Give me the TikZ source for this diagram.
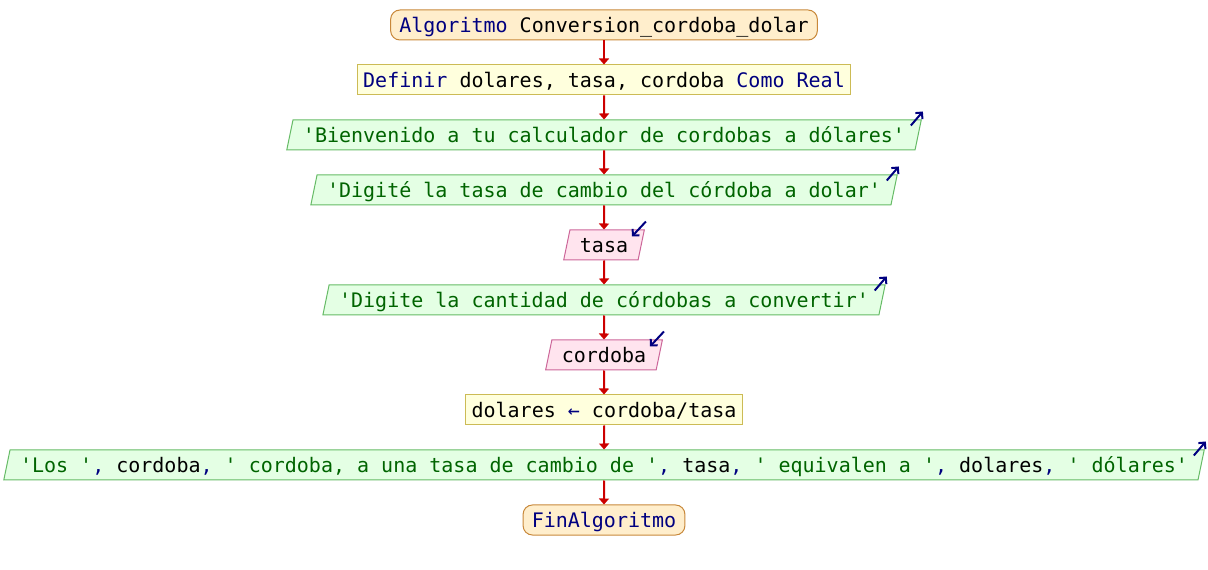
\documentclass[tikz,border=0pt]{standalone}
\usepackage{fontspec}
\setmonofont{DejaVu Sans Mono}
\usetikzlibrary{shapes.geometric,arrows.meta,calc}
\definecolor{kwc}{HTML}{000080}
\definecolor{strc}{HTML}{006400}
\definecolor{termfill}{HTML}{FFEECC}
\definecolor{termdraw}{HTML}{C8883A}
\definecolor{procfill}{HTML}{FFFFDD}
\definecolor{procdraw}{HTML}{CCBB55}
\definecolor{outfill}{HTML}{E4FFE4}
\definecolor{outdraw}{HTML}{66BB66}
\definecolor{infill}{HTML}{FFE4EE}
\definecolor{indraw}{HTML}{CC6699}
\definecolor{flowc}{HTML}{CC0000}
\newcommand{\kwd}[1]{\textcolor{kwc}{#1}}
\newcommand{\strg}[1]{\textcolor{strc}{#1}}
\tikzset{
  base/.style={font=\ttfamily\fontsize{15pt}{18pt}\selectfont, text height=12.5pt, text depth=1.5pt, line width=0.75pt, minimum height=22.5pt, inner ysep=0pt},
  term/.style={base, draw=termdraw, fill=termfill, rounded corners=7pt, inner xsep=6.5pt},
  proc/.style={base, draw=procdraw, fill=procfill, inner xsep=4.5pt},
  para/.style={base, trapezium, trapezium left angle=71.57, trapezium right angle=108.43, trapezium stretches body, inner xsep=7.5pt},
  outbox/.style={para, draw=outdraw, fill=outfill},
  inbox/.style={para, draw=indraw, fill=infill},
  flow/.style={draw=flowc, line width=1.5pt, -{Triangle[width=7.5pt,length=4.5pt]}},
  icon/.style={draw=kwc, line width=1.5pt, -{Straight Barb[length=3.5pt,width=7pt]}}
}
\begin{document}
\begin{tikzpicture}[x=0.75pt,y=-0.75pt]
\useasboundingbox (0,0) rectangle (1208,570);
\node[term] (start) at (604,25) {\kwd{Algoritmo} Conversion\_cordoba\_dolar};
\node[proc] (def) at (604,80) {\kwd{Definir} dolares, tasa, cordoba \kwd{Como Real}};
\node[outbox] (o1) at (604,135) {\strg{'Bienvenido a tu calculador de cordobas a dólares'}};
\node[outbox] (o2) at (604,190) {\strg{'Digité la tasa de cambio del córdoba a dolar'}};
\node[inbox] (i1) at (604,245) {tasa};
\node[outbox] (o3) at (604,300) {\strg{'Digite la cantidad de córdobas a convertir'}};
\node[inbox] (i2) at (604,355) {cordoba};
\node[proc] (asg) at (604,410) {dolares \kwd{←} cordoba/tasa};
\node[outbox] (o4) at (604,465) {\strg{'Los '}\kwd{,} cordoba\kwd{,} \strg{' cordoba, a una tasa de cambio de '}\kwd{,} tasa\kwd{,} \strg{' equivalen a '}\kwd{,} dolares\kwd{,} \strg{' dólares'}};
\node[term] (fin) at (604,520) {\kwd{FinAlgoritmo}};
\draw[flow] (start.south) -- (def.north);
\draw[flow] (def.south) -- (o1.north);
\draw[flow] (o1.south) -- (o2.north);
\draw[flow] (o2.south) -- (i1.north);
\draw[flow] (i1.south) -- (o3.north);
\draw[flow] (o3.south) -- (i2.north);
\draw[flow] (i2.south) -- (asg.north);
\draw[flow] (asg.south) -- (o4.north);
\draw[flow] (o4.south) -- (fin.north);
\foreach \n in {o1,o2,o3,o4}{
  \draw[icon] ($(\n.top right corner)+(-11,6)$) -- ($(\n.top right corner)+(1,-8)$);
}
\foreach \n in {i1,i2}{
  \draw[icon] ($(\n.top right corner)+(1,-8)$) -- ($(\n.top right corner)+(-13,7)$);
}
\end{tikzpicture}
\end{document}
